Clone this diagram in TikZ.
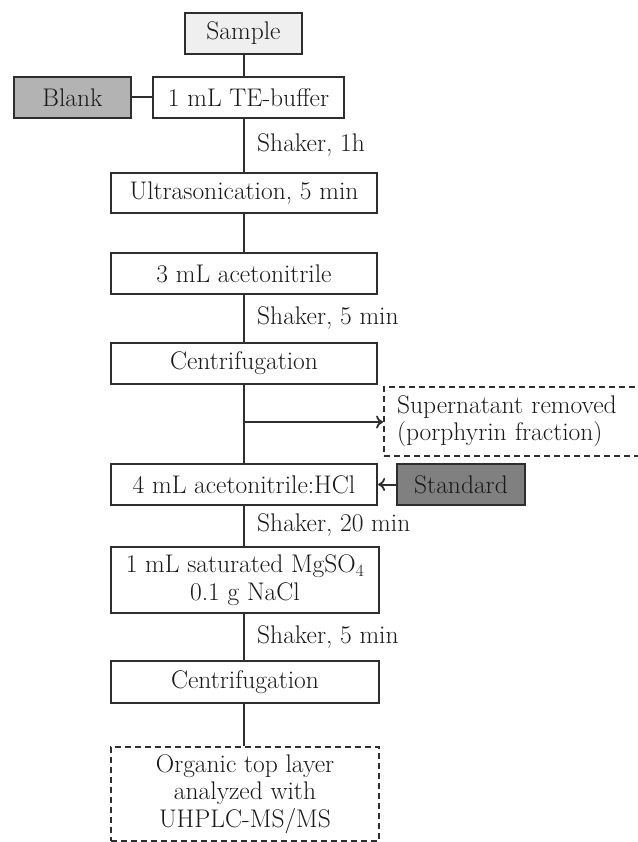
\documentclass[tikz,border=0pt]{standalone}
\usetikzlibrary{arrows.meta}
\definecolor{linec}{HTML}{2E2E2E}
\definecolor{lightfill}{HTML}{EFEFEF}
\definecolor{blankfill}{HTML}{B3B3B3}
\definecolor{stdfill}{HTML}{808080}
\begin{document}
\begin{tikzpicture}[x=1pt,y=-1pt,
  every node/.style={font=\fontsize{25.5}{27.5}\selectfont, text=black!90},
  box/.style={draw=linec, line width=2.2pt, fill=white, minimum height=41pt, inner sep=0pt, align=center},
  dbox/.style={box, line width=1.8pt, dashed, dash pattern=on 6pt off 4pt},
  lbl/.style={anchor=west, inner sep=0pt},
  conn/.style={draw=linec, line width=2pt},
  arr/.style={conn, -{To[length=7pt,width=13pt,line width=1.8pt]}}
]
\useasboundingbox (0,0) rectangle (637,842);
\fill[white] (0,0) rectangle (637,842);

\node[box, fill=lightfill, minimum width=117pt] (sample) at (243.5,33.5) {Sample};
\node[box, fill=blankfill, minimum width=117pt] (blank) at (72.5,97.5) {Blank};
\node[box, minimum width=191pt] (te) at (248.5,97.5) {1 mL TE-buffer};
\node[box, minimum width=266pt, minimum height=40pt] (us) at (244,193) {Ultrasonication, 5 min};
\node[box, minimum width=266pt] (acn) at (244,273.5) {3 mL acetonitrile};
\node[box, minimum width=266pt] (cf1) at (244,363.5) {Centrifugation};
\node[dbox, minimum width=276pt, minimum height=69pt, text width=250pt, align=left] (sup) at (522,421.5) {Supernatant removed\\(porphyrin fraction)};
\node[box, minimum width=266pt] (hcl) at (244,484.5) {4 mL acetonitrile:HCl};
\node[box, fill=stdfill, minimum width=128pt] (std) at (461,484.5) {Standard};
\node[box, minimum width=268pt, minimum height=66pt] (mg) at (245,580) {1 mL saturated MgSO$_4$\\0.1 g NaCl};
\node[box, minimum width=268pt, minimum height=42pt] (cf2) at (245,682) {Centrifugation};
\node[dbox, minimum width=268pt, minimum height=94pt] (org) at (245,794) {Organic top layer\\analyzed with\\UHPLC-MS/MS};

\node[lbl] (l1) at (257,145) {Shaker, 1h};
\node[lbl] (l2) at (257,318) {Shaker, 5 min};
\node[lbl] (l3) at (257,525) {Shaker, 20 min};
\node[lbl] (l4) at (257,637) {Shaker, 5 min};

\coordinate (br) at (243,422);

\draw[conn] (sample.south) -- (sample.south |- te.north);
\draw[conn] (blank.east) -- (te.west);
\draw[conn] (sample.south |- te.south) -- (sample.south |- us.north);
\draw[conn] (sample.south |- us.south) -- (sample.south |- acn.north);
\draw[conn] (sample.south |- acn.south) -- (sample.south |- cf1.north);
\draw[conn] (sample.south |- cf1.south) -- (sample.south |- hcl.north);
\draw[arr] (br) -- (sup.west |- br);
\draw[arr] (std.west) -- (hcl.east);
\draw[conn] (sample.south |- hcl.south) -- (sample.south |- mg.north);
\draw[conn] (sample.south |- mg.south) -- (sample.south |- cf2.north);
\draw[conn] (sample.south |- cf2.south) -- (sample.south |- org.north);
\end{tikzpicture}
\end{document}
